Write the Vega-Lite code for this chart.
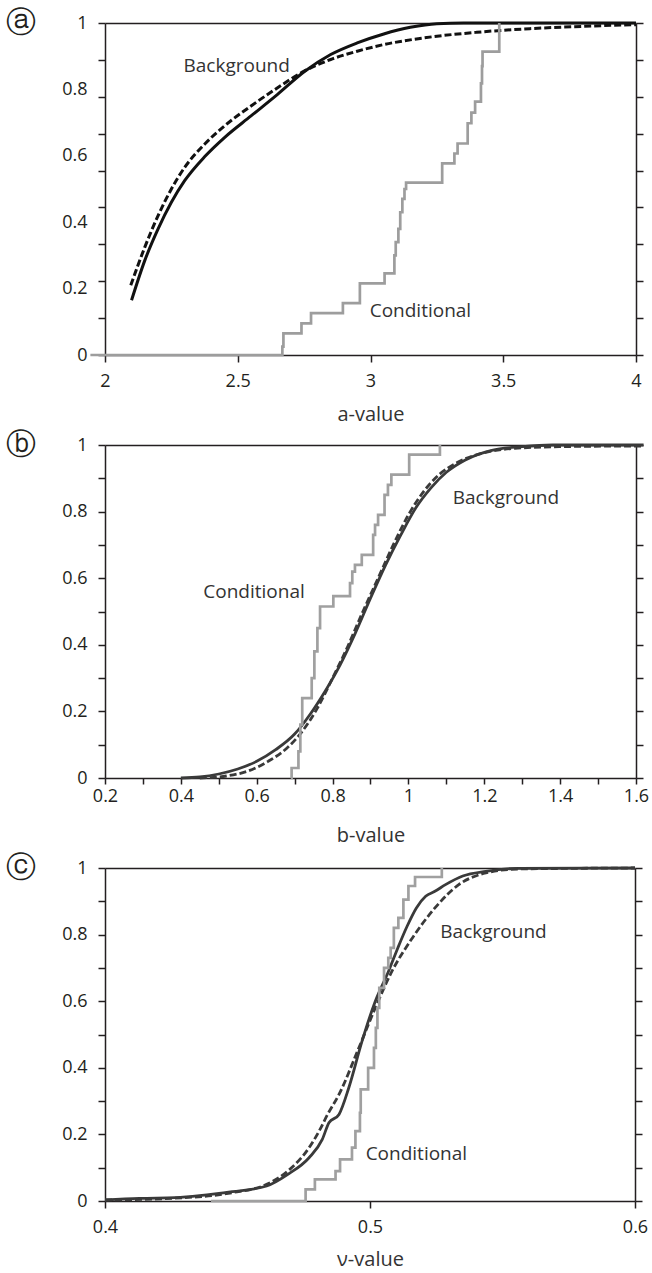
{
  "$schema": "https://vega.github.io/schema/vega-lite/v6.json",
  "padding": {"left": 6, "top": 8, "right": 0, "bottom": 0},
  "autosize": {"type": "pad"},
  "bounds": "flush",
  "spacing": 90,
  "config": {
    "view": {"stroke": null},
    "axis": {"domainColor": "#231f20", "domainWidth": 1.5, "tickColor": "#231f20", "tickWidth": 1.5, "tickSize": 7, "labelFont": "Open Sans", "labelFontSize": 18, "labelColor": "#231f20", "labelOverlap": false, "labelFlush": false, "titleFont": "Open Sans", "titleFontSize": 20, "titleFontWeight": "normal", "titleColor": "#333333", "grid": false},
    "title": {"font": "DejaVu Sans", "fontSize": 30, "fontWeight": "normal", "color": "#231f20", "anchor": "start", "frame": "group", "orient": "top", "baseline": "middle", "offset": 0, "dx": -99, "dy": 28},
    "text": {"font": "Open Sans", "fontSize": 19, "color": "#333333"}
  },
  "datasets": {
    "a": [
      {"s": "bg", "x": 2.1, "y": 0.165}, {"s": "bg", "x": 2.15, "y": 0.285}, {"s": "bg", "x": 2.2, "y": 0.38}, {"s": "bg", "x": 2.25, "y": 0.46}, {"s": "bg", "x": 2.3, "y": 0.525}, {"s": "bg", "x": 2.375, "y": 0.597}, {"s": "bg", "x": 2.45, "y": 0.655}, {"s": "bg", "x": 2.55, "y": 0.72}, {"s": "bg", "x": 2.65, "y": 0.785}, {"s": "bg", "x": 2.75, "y": 0.853}, {"s": "bg", "x": 2.85, "y": 0.905}, {"s": "bg", "x": 2.95, "y": 0.94}, {"s": "bg", "x": 3.05, "y": 0.967}, {"s": "bg", "x": 3.15, "y": 0.987}, {"s": "bg", "x": 3.25, "y": 0.998}, {"s": "bg", "x": 3.35, "y": 1.0}, {"s": "bg", "x": 4.0, "y": 1.0},
      {"s": "bgd", "x": 2.097, "y": 0.21}, {"s": "bgd", "x": 2.15, "y": 0.325}, {"s": "bgd", "x": 2.2, "y": 0.42}, {"s": "bgd", "x": 2.25, "y": 0.5}, {"s": "bgd", "x": 2.3, "y": 0.565}, {"s": "bgd", "x": 2.375, "y": 0.635}, {"s": "bgd", "x": 2.45, "y": 0.69}, {"s": "bgd", "x": 2.55, "y": 0.75}, {"s": "bgd", "x": 2.65, "y": 0.805}, {"s": "bgd", "x": 2.75, "y": 0.855}, {"s": "bgd", "x": 2.85, "y": 0.89}, {"s": "bgd", "x": 2.95, "y": 0.915}, {"s": "bgd", "x": 3.05, "y": 0.935}, {"s": "bgd", "x": 3.2, "y": 0.955}, {"s": "bgd", "x": 3.4, "y": 0.972}, {"s": "bgd", "x": 3.6, "y": 0.983}, {"s": "bgd", "x": 3.8, "y": 0.99}, {"s": "bgd", "x": 4.0, "y": 0.995},
      {"s": "cond", "x": 1.945, "y": 0}, {"s": "cond", "x": 2.668, "y": 0.025}, {"s": "cond", "x": 2.672, "y": 0.065}, {"s": "cond", "x": 2.74, "y": 0.095}, {"s": "cond", "x": 2.776, "y": 0.126}, {"s": "cond", "x": 2.896, "y": 0.156}, {"s": "cond", "x": 2.96, "y": 0.216}, {"s": "cond", "x": 3.053, "y": 0.246}, {"s": "cond", "x": 3.09, "y": 0.3}, {"s": "cond", "x": 3.095, "y": 0.34}, {"s": "cond", "x": 3.105, "y": 0.38}, {"s": "cond", "x": 3.112, "y": 0.43}, {"s": "cond", "x": 3.12, "y": 0.47}, {"s": "cond", "x": 3.128, "y": 0.5}, {"s": "cond", "x": 3.134, "y": 0.519}, {"s": "cond", "x": 3.27, "y": 0.577}, {"s": "cond", "x": 3.316, "y": 0.607}, {"s": "cond", "x": 3.328, "y": 0.637}, {"s": "cond", "x": 3.366, "y": 0.698}, {"s": "cond", "x": 3.38, "y": 0.73}, {"s": "cond", "x": 3.394, "y": 0.763}, {"s": "cond", "x": 3.416, "y": 0.818}, {"s": "cond", "x": 3.42, "y": 0.87}, {"s": "cond", "x": 3.422, "y": 0.914}, {"s": "cond", "x": 3.485, "y": 1.0}
    ],
    "alab": [{"x": 2.496, "y": 0.87, "t": "Background"}, {"x": 3.188, "y": 0.132, "t": "Conditional"}],
    "b": [
      {"s": "bg", "x": 0.4, "y": 0.0}, {"s": "bg", "x": 0.45, "y": 0.003}, {"s": "bg", "x": 0.5, "y": 0.012}, {"s": "bg", "x": 0.55, "y": 0.027}, {"s": "bg", "x": 0.6, "y": 0.05}, {"s": "bg", "x": 0.65, "y": 0.085}, {"s": "bg", "x": 0.7, "y": 0.132}, {"s": "bg", "x": 0.74, "y": 0.19}, {"s": "bg", "x": 0.78, "y": 0.26}, {"s": "bg", "x": 0.82, "y": 0.34}, {"s": "bg", "x": 0.86, "y": 0.435}, {"s": "bg", "x": 0.9, "y": 0.54}, {"s": "bg", "x": 0.94, "y": 0.64}, {"s": "bg", "x": 0.98, "y": 0.73}, {"s": "bg", "x": 1.02, "y": 0.812}, {"s": "bg", "x": 1.06, "y": 0.872}, {"s": "bg", "x": 1.1, "y": 0.918}, {"s": "bg", "x": 1.15, "y": 0.955}, {"s": "bg", "x": 1.22, "y": 0.984}, {"s": "bg", "x": 1.3, "y": 0.995}, {"s": "bg", "x": 1.38, "y": 1.0}, {"s": "bg", "x": 1.62, "y": 1.0},
      {"s": "bgd", "x": 0.45, "y": 0.0}, {"s": "bgd", "x": 0.52, "y": 0.006}, {"s": "bgd", "x": 0.58, "y": 0.022}, {"s": "bgd", "x": 0.63, "y": 0.05}, {"s": "bgd", "x": 0.68, "y": 0.09}, {"s": "bgd", "x": 0.72, "y": 0.14}, {"s": "bgd", "x": 0.76, "y": 0.21}, {"s": "bgd", "x": 0.8, "y": 0.3}, {"s": "bgd", "x": 0.84, "y": 0.395}, {"s": "bgd", "x": 0.88, "y": 0.5}, {"s": "bgd", "x": 0.92, "y": 0.6}, {"s": "bgd", "x": 0.96, "y": 0.7}, {"s": "bgd", "x": 1.0, "y": 0.79}, {"s": "bgd", "x": 1.04, "y": 0.86}, {"s": "bgd", "x": 1.08, "y": 0.91}, {"s": "bgd", "x": 1.13, "y": 0.948}, {"s": "bgd", "x": 1.2, "y": 0.977}, {"s": "bgd", "x": 1.28, "y": 0.99}, {"s": "bgd", "x": 1.4, "y": 0.995}, {"s": "bgd", "x": 1.62, "y": 0.997},
      {"s": "cond", "x": 0.69, "y": 0}, {"s": "cond", "x": 0.692, "y": 0.03}, {"s": "cond", "x": 0.71, "y": 0.08}, {"s": "cond", "x": 0.715, "y": 0.16}, {"s": "cond", "x": 0.72, "y": 0.24}, {"s": "cond", "x": 0.745, "y": 0.3}, {"s": "cond", "x": 0.752, "y": 0.38}, {"s": "cond", "x": 0.76, "y": 0.45}, {"s": "cond", "x": 0.767, "y": 0.515}, {"s": "cond", "x": 0.802, "y": 0.546}, {"s": "cond", "x": 0.846, "y": 0.585}, {"s": "cond", "x": 0.852, "y": 0.62}, {"s": "cond", "x": 0.859, "y": 0.64}, {"s": "cond", "x": 0.877, "y": 0.67}, {"s": "cond", "x": 0.907, "y": 0.73}, {"s": "cond", "x": 0.912, "y": 0.76}, {"s": "cond", "x": 0.92, "y": 0.79}, {"s": "cond", "x": 0.937, "y": 0.85}, {"s": "cond", "x": 0.946, "y": 0.88}, {"s": "cond", "x": 0.955, "y": 0.911}, {"s": "cond", "x": 1.002, "y": 0.971}, {"s": "cond", "x": 1.083, "y": 1.0}
    ],
    "blab": [{"x": 0.593, "y": 0.56, "t": "Conditional"}, {"x": 1.257, "y": 0.84, "t": "Background"}],
    "c": [
      {"s": "bg", "x": 0.4, "y": 0.003}, {"s": "bg", "x": 0.413, "y": 0.008}, {"s": "bg", "x": 0.4264, "y": 0.01}, {"s": "bg", "x": 0.448, "y": 0.028}, {"s": "bg", "x": 0.461, "y": 0.045}, {"s": "bg", "x": 0.469, "y": 0.08}, {"s": "bg", "x": 0.477, "y": 0.13}, {"s": "bg", "x": 0.482, "y": 0.185}, {"s": "bg", "x": 0.4845, "y": 0.235}, {"s": "bg", "x": 0.4883, "y": 0.26}, {"s": "bg", "x": 0.492, "y": 0.34}, {"s": "bg", "x": 0.497, "y": 0.48}, {"s": "bg", "x": 0.502, "y": 0.6}, {"s": "bg", "x": 0.507, "y": 0.69}, {"s": "bg", "x": 0.5105, "y": 0.76}, {"s": "bg", "x": 0.514, "y": 0.825}, {"s": "bg", "x": 0.5175, "y": 0.88}, {"s": "bg", "x": 0.521, "y": 0.915}, {"s": "bg", "x": 0.5245, "y": 0.93}, {"s": "bg", "x": 0.5285, "y": 0.95}, {"s": "bg", "x": 0.535, "y": 0.976}, {"s": "bg", "x": 0.5437, "y": 0.99}, {"s": "bg", "x": 0.556, "y": 0.999}, {"s": "bg", "x": 0.6, "y": 1.0},
      {"s": "bgd", "x": 0.4, "y": 0.003}, {"s": "bgd", "x": 0.43, "y": 0.01}, {"s": "bgd", "x": 0.448, "y": 0.025}, {"s": "bgd", "x": 0.461, "y": 0.05}, {"s": "bgd", "x": 0.469, "y": 0.09}, {"s": "bgd", "x": 0.477, "y": 0.16}, {"s": "bgd", "x": 0.4808, "y": 0.21}, {"s": "bgd", "x": 0.484, "y": 0.26}, {"s": "bgd", "x": 0.4883, "y": 0.32}, {"s": "bgd", "x": 0.4958, "y": 0.46}, {"s": "bgd", "x": 0.502, "y": 0.58}, {"s": "bgd", "x": 0.5083, "y": 0.69}, {"s": "bgd", "x": 0.516, "y": 0.79}, {"s": "bgd", "x": 0.5245, "y": 0.88}, {"s": "bgd", "x": 0.5335, "y": 0.95}, {"s": "bgd", "x": 0.5437, "y": 0.985}, {"s": "bgd", "x": 0.556, "y": 0.997}, {"s": "bgd", "x": 0.6, "y": 1.0},
      {"s": "cond", "x": 0.44, "y": 0}, {"s": "cond", "x": 0.4757, "y": 0.035}, {"s": "cond", "x": 0.4792, "y": 0.065}, {"s": "cond", "x": 0.487, "y": 0.09}, {"s": "cond", "x": 0.4887, "y": 0.125}, {"s": "cond", "x": 0.4932, "y": 0.16}, {"s": "cond", "x": 0.4945, "y": 0.21}, {"s": "cond", "x": 0.4962, "y": 0.265}, {"s": "cond", "x": 0.4965, "y": 0.335}, {"s": "cond", "x": 0.4993, "y": 0.4}, {"s": "cond", "x": 0.5015, "y": 0.46}, {"s": "cond", "x": 0.5022, "y": 0.52}, {"s": "cond", "x": 0.5028, "y": 0.58}, {"s": "cond", "x": 0.5035, "y": 0.64}, {"s": "cond", "x": 0.5053, "y": 0.7}, {"s": "cond", "x": 0.5069, "y": 0.73}, {"s": "cond", "x": 0.5078, "y": 0.76}, {"s": "cond", "x": 0.509, "y": 0.82}, {"s": "cond", "x": 0.5107, "y": 0.85}, {"s": "cond", "x": 0.5126, "y": 0.905}, {"s": "cond", "x": 0.5145, "y": 0.946}, {"s": "cond", "x": 0.517, "y": 0.973}, {"s": "cond", "x": 0.5271, "y": 1.0}
    ],
    "clab": [{"x": 0.5466, "y": 0.808, "t": "Background"}, {"x": 0.5175, "y": 0.141, "t": "Conditional"}]
  },
  "vconcat": [
    {
      "width": 531, "height": 332,
      "title": {"text": "ⓐ"},
      "layer": [
        {"data": {"name": "a"}, "transform": [{"filter": "datum.s === 'bg'"}], "mark": {"type": "line", "color": "#111111", "strokeWidth": 3, "interpolate": "monotone"},
         "encoding": {
           "x": {"field": "x", "type": "quantitative", "scale": {"domain": [2, 4], "nice": false, "zero": false},
                 "axis": {"orient": "bottom", "values": [2, 2.5, 3, 3.5, 4], "labelExpr": "format(datum.value, '.1~f')", "labelPadding": 10, "title": "a-value", "titlePadding": 14}},
           "y": {"field": "y", "type": "quantitative", "scale": {"domain": [0, 1], "nice": false},
                 "axis": {"orient": "left", "values": [0, 0.1111, 0.2222, 0.3333, 0.4444, 0.5556, 0.6667, 0.7778, 0.8889, 1, 0.2, 0.4, 0.6, 0.8],
                          "labelExpr": "(datum.value == 0 || datum.value == 1 || datum.value == 0.2 || datum.value == 0.4 || datum.value == 0.6 || datum.value == 0.8) ? format(datum.value, '.1~f') : ''",
                          "tickOpacity": {"condition": {"test": "datum.value == 0.2 || datum.value == 0.4 || datum.value == 0.6 || datum.value == 0.8", "value": 0}, "value": 1},
                          "labelPadding": 11, "title": null}}}},
        {"data": {"name": "a"}, "transform": [{"filter": "datum.s === 'bgd'"}], "mark": {"type": "line", "color": "#111111", "strokeWidth": 3, "strokeDash": [7, 3], "interpolate": "monotone"},
         "encoding": {"x": {"field": "x", "type": "quantitative", "scale": {"domain": [2, 4], "nice": false, "zero": false}, "axis": null}, "y": {"field": "y", "type": "quantitative", "scale": {"domain": [0, 1], "nice": false}, "axis": null}}},
        {"data": {"name": "a"}, "transform": [{"filter": "datum.s === 'cond'"}], "mark": {"type": "line", "color": "#9d9d9d", "strokeWidth": 2.7, "interpolate": "step-after"},
         "encoding": {"x": {"field": "x", "type": "quantitative", "scale": {"domain": [2, 4], "nice": false, "zero": false}, "axis": null}, "y": {"field": "y", "type": "quantitative", "scale": {"domain": [0, 1], "nice": false}, "axis": null}}},
        {"data": {"name": "alab"}, "mark": {"type": "text", "align": "center", "baseline": "middle"},
         "encoding": {
           "x": {"field": "x", "type": "quantitative", "scale": {"domain": [2, 4], "nice": false, "zero": false}, "axis": {"orient": "top", "labels": false, "ticks": false, "domain": true, "title": null}},
           "y": {"field": "y", "type": "quantitative", "scale": {"domain": [0, 1], "nice": false}, "axis": {"orient": "right", "values": [0, 0.1111, 0.2222, 0.3333, 0.4444, 0.5556, 0.6667, 0.7778, 0.8889, 1], "labels": false, "title": null}},
           "text": {"field": "t"}}}
      ],
      "resolve": {"axis": {"x": "independent", "y": "independent"}}
    },
    {
      "width": 531, "height": 333,
      "title": {"text": "ⓑ"},
      "layer": [
        {"data": {"name": "b"}, "transform": [{"filter": "datum.s === 'bg'"}], "mark": {"type": "line", "color": "#3a3a3a", "strokeWidth": 2.8, "interpolate": "monotone"},
         "encoding": {
           "x": {"field": "x", "type": "quantitative", "scale": {"domain": [0.2, 1.6], "nice": false, "zero": false},
                 "axis": {"orient": "bottom", "values": [0.2, 0.3, 0.4, 0.5, 0.6, 0.7, 0.8, 0.9, 1, 1.1, 1.2, 1.3, 1.4, 1.5, 1.6], "labelExpr": "round(datum.value * 10) % 2 == 0 ? format(datum.value, '.1~f') : ''", "tickSize": 6, "labelPadding": 3, "title": "b-value", "titlePadding": 20}},
           "y": {"field": "y", "type": "quantitative", "scale": {"domain": [0, 1], "nice": false},
                 "axis": {"orient": "left", "values": [0, 0.1, 0.2, 0.3, 0.4, 0.5, 0.6, 0.7, 0.8, 0.9, 1], "labelExpr": "round(datum.value * 10) % 2 == 0 ? format(datum.value, '.1~f') : ''", "labelPadding": 11, "title": null}}}},
        {"data": {"name": "b"}, "transform": [{"filter": "datum.s === 'bgd'"}], "mark": {"type": "line", "color": "#3a3a3a", "strokeWidth": 2.8, "strokeDash": [7, 3], "interpolate": "monotone"},
         "encoding": {"x": {"field": "x", "type": "quantitative", "scale": {"domain": [0.2, 1.6], "nice": false, "zero": false}, "axis": null}, "y": {"field": "y", "type": "quantitative", "scale": {"domain": [0, 1], "nice": false}, "axis": null}}},
        {"data": {"name": "b"}, "transform": [{"filter": "datum.s === 'cond'"}], "mark": {"type": "line", "color": "#a0a0a0", "strokeWidth": 2.7, "interpolate": "step-after"},
         "encoding": {"x": {"field": "x", "type": "quantitative", "scale": {"domain": [0.2, 1.6], "nice": false, "zero": false}, "axis": null}, "y": {"field": "y", "type": "quantitative", "scale": {"domain": [0, 1], "nice": false}, "axis": null}}},
        {"data": {"name": "blab"}, "mark": {"type": "text", "align": "center", "baseline": "middle"},
         "encoding": {
           "x": {"field": "x", "type": "quantitative", "scale": {"domain": [0.2, 1.6], "nice": false, "zero": false}, "axis": {"orient": "top", "labels": false, "ticks": false, "domain": true, "title": null}},
           "y": {"field": "y", "type": "quantitative", "scale": {"domain": [0, 1], "nice": false}, "axis": {"orient": "right", "values": [0, 0.1, 0.2, 0.3, 0.4, 0.5, 0.6, 0.7, 0.8, 0.9, 1], "labels": false, "title": null}},
           "text": {"field": "t"}}}
      ],
      "resolve": {"axis": {"x": "independent", "y": "independent"}}
    },
    {
      "width": 530, "height": 333,
      "title": {"text": "ⓒ"},
      "layer": [
        {"data": {"name": "c"}, "transform": [{"filter": "datum.s === 'bg'"}], "mark": {"type": "line", "color": "#3a3a3a", "strokeWidth": 2.8, "interpolate": "monotone"},
         "encoding": {
           "x": {"field": "x", "type": "quantitative", "scale": {"domain": [0.4, 0.6], "nice": false, "zero": false},
                 "axis": {"orient": "bottom", "values": [0.4, 0.5, 0.6], "labelExpr": "format(datum.value, '.1f')", "labelPadding": 10, "title": "ν-value", "titlePadding": 13}},
           "y": {"field": "y", "type": "quantitative", "scale": {"domain": [0, 1], "nice": false},
                 "axis": {"orient": "left", "values": [0, 0.1, 0.2, 0.3, 0.4, 0.5, 0.6, 0.7, 0.8, 0.9, 1], "labelExpr": "round(datum.value * 10) % 2 == 0 ? format(datum.value, '.1~f') : ''", "labelPadding": 11, "title": null}}}},
        {"data": {"name": "c"}, "transform": [{"filter": "datum.s === 'bgd'"}], "mark": {"type": "line", "color": "#3a3a3a", "strokeWidth": 2.8, "strokeDash": [7, 3], "interpolate": "monotone"},
         "encoding": {"x": {"field": "x", "type": "quantitative", "scale": {"domain": [0.4, 0.6], "nice": false, "zero": false}, "axis": null}, "y": {"field": "y", "type": "quantitative", "scale": {"domain": [0, 1], "nice": false}, "axis": null}}},
        {"data": {"name": "c"}, "transform": [{"filter": "datum.s === 'cond'"}], "mark": {"type": "line", "color": "#a0a0a0", "strokeWidth": 2.7, "interpolate": "step-after"},
         "encoding": {"x": {"field": "x", "type": "quantitative", "scale": {"domain": [0.4, 0.6], "nice": false, "zero": false}, "axis": null}, "y": {"field": "y", "type": "quantitative", "scale": {"domain": [0, 1], "nice": false}, "axis": null}}},
        {"data": {"name": "clab"}, "mark": {"type": "text", "align": "center", "baseline": "middle"},
         "encoding": {
           "x": {"field": "x", "type": "quantitative", "scale": {"domain": [0.4, 0.6], "nice": false, "zero": false}, "axis": {"orient": "top", "labels": false, "ticks": false, "domain": true, "title": null}},
           "y": {"field": "y", "type": "quantitative", "scale": {"domain": [0, 1], "nice": false}, "axis": {"orient": "right", "values": [0, 0.1, 0.2, 0.3, 0.4, 0.5, 0.6, 0.7, 0.8, 0.9, 1], "labels": false, "title": null}},
           "text": {"field": "t"}}}
      ],
      "resolve": {"axis": {"x": "independent", "y": "independent"}}
    }
  ]
}
